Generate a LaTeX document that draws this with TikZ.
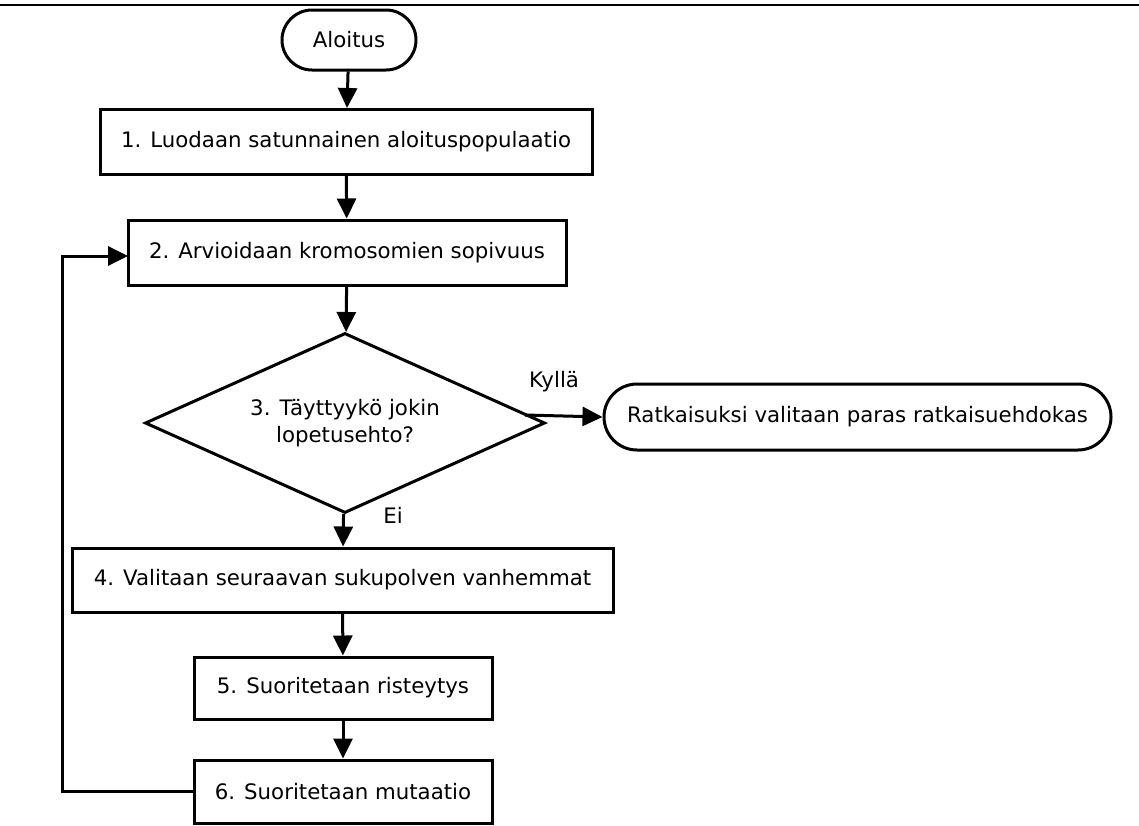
\documentclass[tikz,border=0pt]{standalone}
\usepackage{fontspec}
\setmainfont{DejaVu Sans}
\usetikzlibrary{shapes.geometric,arrows.meta}
\begin{document}
\begin{tikzpicture}[x=1pt,y=-1pt,
  every node/.style={font=\fontsize{21.3}{27}\selectfont},
  stepbox/.style={draw,line width=3pt,rectangle,inner sep=0pt,minimum height=#1},
  stepbox/.default=65pt,
  term/.style={draw,line width=3pt,rectangle,rounded corners=30pt,inner sep=0pt},
  decide/.style={draw,line width=3pt,diamond,aspect=2.22,inner sep=0pt,minimum width=400pt,minimum height=180pt,align=center},
  flow/.style={line width=3pt,-{Triangle[length=20pt,width=19pt]}},
  lab/.style={inner sep=0pt}
]
\useasboundingbox (0,0) rectangle (1139,825);
\draw[line width=2.2pt] (0,5) -- (1139,5);
\node[term,minimum width=134pt,minimum height=60pt] (start) at (349,40) {Aloitus};
\node[stepbox,minimum width=492pt] (s1) at (346,142) {1. Luodaan satunnainen aloituspopulaatio};
\node[stepbox,minimum width=438pt] (s2) at (347,252.5) {2. Arvioidaan kromosomien sopivuus};
\node[decide] (d) at (345,423) {3. Täyttyykö jokin\\lopetusehto?};
\node[term,rounded corners=33pt,minimum width=507pt,minimum height=66pt] (res) at (857.5,417) {Ratkaisuksi valitaan paras ratkaisuehdokas};
\node[stepbox=64pt,minimum width=541pt] (s4) at (342.5,580) {4. Valitaan seuraavan sukupolven vanhemmat};
\node[stepbox=62pt,minimum width=298pt] (s5) at (343,688) {5. Suoritetaan risteytys};
\node[stepbox=63pt,minimum width=298pt] (s6) at (343,791.5) {6. Suoritetaan mutaatio};
\coordinate (c1) at (62,791.5);
\coordinate (c2) at (62,256);
\coordinate (c3) at (128,256);
\coordinate (dout) at (525,415);
\draw[flow] (start) -- (s1);
\draw[flow] (s1) -- (s2);
\draw[flow] (s2) -- (d);
\draw[flow] (d) -- (s4);
\draw[flow] (dout) -- (res.west);
\draw[flow] (s4) -- (s5);
\draw[flow] (s5) -- (s6);
\draw[flow] (s6.west) -- (c1) -- (c2) -- (c3);
\node[lab] (yes) at (554,382) {Kyllä};
\node[lab] (no) at (393,515) {Ei};
\end{tikzpicture}
\end{document}
